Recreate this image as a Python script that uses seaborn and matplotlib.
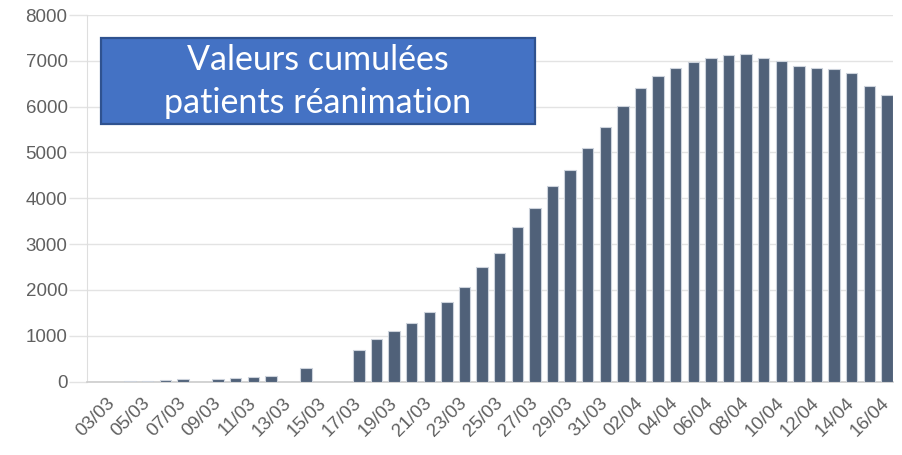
import matplotlib
matplotlib.use('Agg')
import matplotlib.pyplot as plt
from matplotlib.patches import Rectangle
import seaborn as sns
import pandas as pd

# cumulative ICU patients, one value per day (03/03 -> 16/04)
days = ['03/03', '04/03', '05/03', '06/03', '07/03', '08/03', '09/03', '10/03',
        '11/03', '12/03', '13/03', '14/03', '15/03', '16/03', '17/03', '18/03',
        '19/03', '20/03', '21/03', '22/03', '23/03', '24/03', '25/03', '26/03',
        '27/03', '28/03', '29/03', '30/03', '31/03', '01/04', '02/04', '03/04',
        '04/04', '05/04', '06/04', '07/04', '08/04', '09/04', '10/04', '11/04',
        '12/04', '13/04', '14/04', '15/04', '16/04']
patients = [0, 12, 20, 35, 45, 0, 60, 80, 95, 125, 0, 290, 0, 0, 690, 920,
            1110, 1280, 1515, 1735, 2070, 2505, 2810, 3365, 3780, 4270, 4620,
            5100, 5565, 6010, 6400, 6660, 6835, 6970, 7065, 7125, 7150, 7060,
            7000, 6885, 6840, 6820, 6730, 6455, 6245]
y_ticks = [0, 1000, 2000, 3000, 4000, 5000, 6000, 7000, 8000]
box_text = 'Valeurs cumulées\npatients réanimation'

df = pd.DataFrame({'day': days, 'patients': patients})

sns.set_style('white')
plt.rcParams['font.family'] = ['Liberation Sans', 'DejaVu Sans']

fig = plt.figure(figsize=(9.02, 4.55), dpi=100)
ax = fig.add_axes([87 / 902, (455 - 381.5) / 455, 806 / 902, 366.5 / 455])

sns.barplot(data=df, x='day', y='patients', color='#506179', saturation=1,
            width=0.65, edgecolor='#cdd3dc', linewidth=0.8, ax=ax, zorder=3)

# axes settings
ax.set_xlim(-1.45, 44.35)
ax.set_ylim(0, 8000)
ax.set_yticks(y_ticks)
ax.set_yticklabels([str(v) for v in y_ticks], fontsize=13.5, color='#606060')
ax.yaxis.grid(True, color='#e3e3e3', linewidth=1, zorder=0)
ax.tick_params(axis='y', length=13, width=1, color='#e3e3e3', pad=1, left=True)

ax.set_xticks(range(0, len(days), 2))
ax.set_xticklabels(days[::2], fontsize=13.5, color='#606060', rotation=45,
                   ha='right', va='center', rotation_mode='anchor')
ax.tick_params(axis='x', length=0, pad=14)
ax.set_xlabel('')
ax.set_ylabel('')

for s in ['top', 'right']:
    ax.spines[s].set_visible(False)
ax.spines['left'].set_color('#dedede')
ax.spines['bottom'].set_color('#cccccc')
ax.spines['bottom'].set_linewidth(1.2)

# blue title box
fig.patches.append(Rectangle((100.7 / 902, (455 - 123.5) / 455), 434.3 / 902, 85.2 / 455,
                             transform=fig.transFigure, facecolor='#4472C4',
                             edgecolor='#2F528F', linewidth=1.6, zorder=5))
fig.text(317.8 / 902, (455 - 81.5) / 455, box_text, ha='center', va='center',
         fontsize=24.5, color='white', family=['Lato', 'DejaVu Sans'],
         linespacing=1.45, zorder=6)

fig.savefig('out.png', dpi=100)
